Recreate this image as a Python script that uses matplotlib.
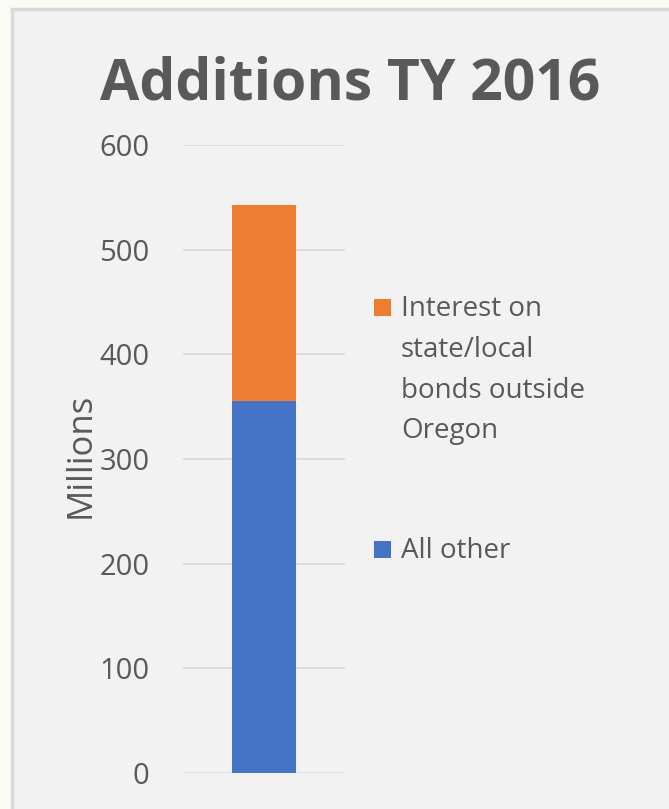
import matplotlib
matplotlib.use('Agg')
import matplotlib.pyplot as plt
from matplotlib.patches import Rectangle

# values (millions)
categories = ['TY 2016']
all_other = [355]
interest_outside = [188]
series_labels = ['Interest on\nstate/local\nbonds outside\nOregon', 'All other']
yticks = [0, 100, 200, 300, 400, 500, 600]

plt.rcParams['font.family'] = ['Open Sans', 'DejaVu Sans']
txt = '#595959'

fig = plt.figure(figsize=(6.69, 8.09), dpi=100)
fig.patch.set_facecolor('#fafbf4')
# grey chart panel with light border
fig.patches.append(Rectangle((12 / 669, -0.01), 1.0, (809 - 9) / 809 + 0.01,
                             transform=fig.transFigure, facecolor='#f2f2f2',
                             edgecolor='#d9d9d9', linewidth=2.5, zorder=-10))

ax = fig.add_axes([183 / 669, 36 / 809, 162 / 669, 628 / 809])
ax.set_facecolor('none')

x = range(len(categories))
ax.bar(x, all_other, width=0.4, color='#4472c4', zorder=3)
ax.bar(x, interest_outside, width=0.4, bottom=all_other, color='#ed7d31', zorder=3)

ax.set_xlim(-0.5, 0.5)
ax.set_ylim(0, 600)
ax.set_yticks(yticks)
ax.set_xticks([])
ax.tick_params(axis='y', length=0, labelsize=21, colors=txt, pad=24)
ax.yaxis.grid(True, color='#d9d9d9', linewidth=1.2)
for s in ax.spines.values():
    s.set_visible(False)
ax.set_ylabel('Millions', fontsize=25, color=txt, labelpad=0)
ax.yaxis.set_label_coords(-0.53, 0.505)

fig.text(350 / 669, 1 - 100 / 809, 'Additions TY 2016', ha='center', va='baseline',
         fontsize=41, fontweight='bold', color=txt)

# legend drawn to the right of the plot
legend_colors = ['#ed7d31', '#4472c4']
legend_y = [307.5, 549]
for lab, col, yy in zip(series_labels, legend_colors, legend_y):
    fy = 1 - yy / 809
    fig.patches.append(Rectangle((374 / 669, fy - 8.5 / 809), 17 / 669, 17 / 809,
                                 transform=fig.transFigure, facecolor=col,
                                 edgecolor='none', zorder=3))
    fig.text(401 / 669, fy + 12 / 809, lab, ha='left', va='top', fontsize=20,
             color=txt, linespacing=1.6)

fig.savefig('out.png', dpi=100, facecolor=fig.get_facecolor())
